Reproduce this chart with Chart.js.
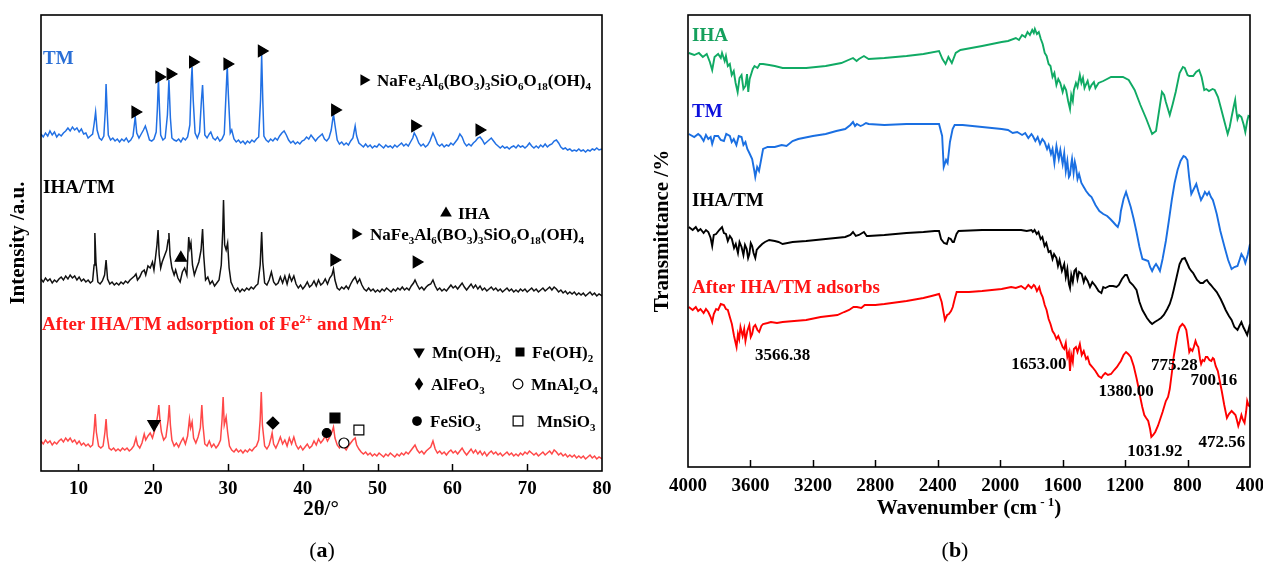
<!DOCTYPE html>
<html>
<head>
<meta charset="utf-8">
<title>XRD and FTIR of IHA/TM</title>
<script src="https://cdn.jsdelivr.net/npm/chart.js@4.4.1/dist/chart.umd.min.js"></script>
<style>
  html, body { margin: 0; padding: 0; background: #fff; }
  #wrap { position: relative; width: 1263px; height: 566px; overflow: hidden; background: #fff; }
  #xrd { position: absolute; left: 0; top: 0; }
  #ftir { position: absolute; left: 630px; top: 0; }
</style>
</head>
<body>
<div id="wrap">
  <canvas id="xrd" width="630" height="566"></canvas>
  <canvas id="ftir" width="633" height="566"></canvas>
</div>
<script>
// ---------------- (a) XRD patterns: [2θ (°), intensity (a.u., stacked)] ----------------
const xrdTicks = [10, 20, 30, 40, 50, 60, 70, 80];

const xrdTM = [
  [5.0,337],[5.3,334],[5.6,338],[5.9,335],[6.2,340],[6.5,336],[6.8,339],[7.1,334],[7.4,337],[7.7,335],
  [8.0,338],[8.3,340],[8.6,343],[8.9,340],[9.2,344],[9.5,341],[9.8,343],[10.1,339],[10.4,342],[10.7,337],
  [11.0,338],[11.3,333],[11.6,335],[11.9,337],[12.1,347],[12.3,359],[12.5,341],[12.8,333],[13.1,331],[13.4,335],
  [13.6,361],[13.7,387],[13.85,359],[14.0,336],[14.3,331],[14.6,333],[14.9,330],[15.2,332],[15.5,329],[15.8,332],
  [16.1,330],[16.4,333],[16.7,329],[17.0,331],[17.3,335],[17.6,354],[17.8,338],[18.1,333],[18.4,337],[18.7,341],
  [18.95,345],[19.2,339],[19.5,331],[19.8,330],[20.1,332],[20.4,339],[20.55,361],[20.7,392],[20.85,361],[21.0,336],
  [21.3,331],[21.6,333],[21.9,356],[22.1,391],[22.3,353],[22.5,333],[22.8,331],[23.1,330],[23.4,332],[23.7,329],
  [24.0,333],[24.3,331],[24.6,334],[24.9,346],[25.1,391],[25.2,404],[25.35,371],[25.6,338],[25.9,333],[26.2,339],
  [26.45,371],[26.6,386],[26.75,361],[26.9,336],[27.2,333],[27.5,337],[27.7,339],[28.0,333],[28.3,331],[28.6,334],
  [28.9,330],[29.2,332],[29.5,337],[29.7,371],[29.9,405],[30.05,376],[30.3,338],[30.5,341],[30.8,332],[31.1,329],
  [31.4,331],[31.7,328],[32.0,330],[32.3,327],[32.6,330],[32.9,328],[33.2,331],[33.5,329],[33.8,332],[34.1,334],
  [34.35,371],[34.5,416],[34.65,371],[34.8,335],[35.1,331],[35.4,329],[35.7,332],[36.0,330],[36.3,333],[36.6,331],
  [36.9,335],[37.2,338],[37.5,340],[37.8,336],[38.1,331],[38.4,328],[38.7,330],[39.0,327],[39.3,329],[39.6,327],
  [39.9,330],[40.2,331],[40.5,334],[40.8,332],[41.1,336],[41.4,333],[41.7,330],[42.0,333],[42.3,335],[42.6,337],
  [42.9,332],[43.2,330],[43.5,333],[43.8,341],[44.1,357],[44.3,346],[44.6,331],[44.9,327],[45.2,329],[45.5,326],
  [45.8,328],[46.1,326],[46.4,330],[46.7,333],[47.0,345],[47.2,335],[47.5,328],[47.8,326],[48.1,324],[48.4,327],
  [48.7,324],[49.0,326],[49.3,323],[49.6,325],[49.9,324],[50.2,327],[50.5,325],[50.8,323],[51.1,326],[51.4,324],
  [51.7,325],[52.0,323],[52.3,326],[52.6,324],[52.9,326],[53.2,328],[53.5,325],[53.8,327],[54.1,325],[54.4,329],
  [54.7,333],[54.9,338],[55.2,334],[55.5,328],[55.8,325],[56.1,327],[56.4,324],[56.7,326],[57.0,330],[57.4,338],
  [57.7,333],[58.0,327],[58.3,325],[58.6,327],[58.9,324],[59.2,326],[59.5,325],[59.8,328],[60.1,326],[60.4,329],
  [60.7,332],[61.0,337],[61.3,334],[61.6,328],[61.9,325],[62.2,327],[62.5,325],[62.8,328],[63.1,330],[63.4,333],
  [63.7,334],[64.0,331],[64.3,327],[64.6,329],[64.9,331],[65.2,333],[65.5,330],[65.8,327],[66.1,325],[66.4,323],
  [66.7,325],[67.0,323],[67.3,324],[67.6,322],[67.9,324],[68.2,325],[68.5,323],[68.8,326],[69.1,324],[69.4,325],
  [69.7,323],[70.0,325],[70.3,328],[70.6,325],[70.9,323],[71.2,325],[71.5,323],[71.8,326],[72.1,324],[72.4,327],
  [72.7,324],[73.0,326],[73.3,327],[73.6,330],[73.9,331],[74.2,328],[74.5,324],[74.8,322],[75.1,323],[75.4,321],
  [75.7,322],[76.0,320],[76.3,321],[76.6,320],[76.9,322],[77.2,320],[77.5,321],[77.8,319],[78.1,321],[78.4,320],
  [78.7,322],[79.0,321],[79.3,323],[79.6,321],[80.0,322]
];

const xrdIHATM = [
  [5.0,192],[5.3,189],[5.6,193],[5.9,190],[6.2,192],[6.5,188],[6.8,191],[7.1,189],[7.4,192],[7.7,194],
  [8.0,191],[8.3,195],[8.6,192],[8.9,196],[9.2,193],[9.5,195],[9.8,191],[10.1,194],[10.4,190],[10.7,192],
  [11.0,189],[11.3,191],[11.6,188],[11.9,190],[12.1,206],[12.2,238],[12.35,209],[12.6,189],[12.9,187],[13.2,190],
  [13.5,196],[13.7,211],[13.9,192],[14.2,187],[14.5,189],[14.8,186],[15.1,188],[15.4,186],[15.7,189],[16.0,187],
  [16.3,190],[16.6,188],[16.9,191],[17.2,193],[17.5,195],[17.7,197],[17.9,191],[18.2,194],[18.5,199],[18.8,201],
  [19.0,196],[19.3,205],[19.6,203],[19.9,209],[20.1,201],[20.3,213],[20.5,226],[20.65,241],[20.8,216],[21.0,203],
  [21.2,209],[21.5,215],[21.8,221],[22.0,231],[22.1,238],[22.25,216],[22.5,203],[22.8,196],[23.0,201],[23.3,193],
  [23.6,189],[23.9,199],[24.2,203],[24.5,196],[24.75,234],[24.9,223],[25.05,228],[25.25,206],[25.5,196],[25.8,203],
  [26.1,209],[26.4,221],[26.6,242],[26.75,216],[27.0,191],[27.3,194],[27.6,187],[27.9,190],[28.2,185],[28.5,188],
  [28.8,191],[29.1,206],[29.3,241],[29.4,271],[29.55,226],[29.75,221],[29.95,228],[30.15,203],[30.4,189],[30.7,184],
  [31.0,180],[31.3,183],[31.6,179],[31.9,182],[32.2,180],[32.5,183],[32.8,181],[33.1,184],[33.4,182],[33.7,185],
  [34.0,187],[34.3,206],[34.5,239],[34.65,209],[34.9,188],[35.2,186],[35.5,191],[35.8,199],[36.1,189],[36.4,186],
  [36.7,188],[37.0,194],[37.3,188],[37.6,195],[37.9,187],[38.2,196],[38.5,190],[38.8,195],[39.1,187],[39.4,183],
  [39.7,186],[40.0,182],[40.3,185],[40.6,189],[40.9,184],[41.2,186],[41.5,190],[41.8,185],[42.1,191],[42.4,186],
  [42.7,188],[43.0,192],[43.3,187],[43.6,193],[43.9,196],[44.1,202],[44.3,191],[44.6,183],[44.9,181],[45.2,184],
  [45.5,182],[45.8,185],[46.1,182],[46.4,187],[46.7,191],[47.0,194],[47.3,188],[47.6,192],[47.9,186],[48.2,182],
  [48.5,180],[48.8,183],[49.1,180],[49.4,182],[49.7,179],[50.0,181],[50.3,179],[50.6,182],[50.9,180],[51.2,183],
  [51.5,181],[51.8,179],[52.1,182],[52.4,180],[52.7,183],[53.0,181],[53.3,184],[53.6,181],[53.9,183],[54.2,181],
  [54.5,185],[54.8,188],[55.0,191],[55.3,186],[55.6,182],[55.9,184],[56.2,181],[56.5,184],[56.8,186],[57.1,187],
  [57.4,191],[57.7,185],[58.0,181],[58.3,183],[58.6,180],[58.9,182],[59.2,180],[59.5,183],[59.8,186],[60.1,183],
  [60.4,185],[60.7,182],[61.0,185],[61.3,188],[61.6,184],[61.9,181],[62.2,184],[62.5,187],[62.8,183],[63.1,186],
  [63.4,182],[63.7,185],[64.0,181],[64.3,183],[64.6,180],[64.9,182],[65.2,184],[65.5,181],[65.8,183],[66.1,180],
  [66.4,182],[66.7,179],[67.0,181],[67.3,183],[67.6,180],[67.9,182],[68.2,179],[68.5,181],[68.8,179],[69.1,182],
  [69.4,180],[69.7,182],[70.0,179],[70.3,181],[70.6,183],[70.9,180],[71.2,182],[71.5,179],[71.8,181],[72.1,183],
  [72.4,180],[72.7,182],[73.0,184],[73.3,181],[73.6,184],[73.9,182],[74.2,179],[74.5,181],[74.8,178],[75.1,180],
  [75.4,177],[75.7,179],[76.0,177],[76.3,179],[76.6,176],[76.9,178],[77.2,176],[77.5,178],[77.8,175],[78.1,177],
  [78.4,179],[78.7,176],[79.0,178],[79.3,175],[79.6,177],[80.0,175]
];

const xrdAdsorbed = [
  [5.0,30],[5.3,27],[5.6,31],[5.9,28],[6.2,30],[6.5,26],[6.8,29],[7.1,27],[7.4,30],[7.7,32],
  [8.0,29],[8.3,33],[8.6,30],[8.9,33],[9.2,29],[9.5,31],[9.8,27],[10.1,30],[10.4,26],[10.7,28],
  [11.0,25],[11.3,27],[11.6,24],[11.9,26],[12.1,41],[12.25,57],[12.4,39],[12.7,25],[13.0,23],[13.3,25],
  [13.55,39],[13.7,52],[13.85,35],[14.1,23],[14.4,21],[14.7,23],[15.0,20],[15.3,22],[15.6,20],[15.9,23],
  [16.2,21],[16.5,23],[16.8,20],[17.1,22],[17.4,25],[17.7,33],[17.9,26],[18.2,23],[18.5,28],[18.8,37],
  [19.0,31],[19.3,35],[19.6,38],[19.9,33],[20.2,41],[20.4,47],[20.6,56],[20.75,66],[20.9,51],[21.1,39],
  [21.4,31],[21.7,34],[22.0,51],[22.15,66],[22.3,46],[22.5,31],[22.8,25],[23.1,28],[23.4,24],[23.7,29],
  [24.0,33],[24.3,27],[24.6,35],[24.85,52],[25.0,43],[25.2,49],[25.4,33],[25.7,28],[26.0,34],[26.3,43],
  [26.5,66],[26.65,46],[26.9,27],[27.2,25],[27.5,30],[27.8,24],[28.1,27],[28.4,23],[28.7,26],[29.0,31],
  [29.2,51],[29.35,74],[29.5,46],[29.75,54],[29.95,39],[30.2,25],[30.5,21],[30.8,19],[31.1,22],[31.4,19],
  [31.7,21],[32.0,18],[32.3,21],[32.6,19],[32.9,22],[33.2,20],[33.5,23],[33.8,25],[34.1,31],[34.3,51],
  [34.45,79],[34.6,46],[34.9,25],[35.2,22],[35.5,26],[35.75,33],[35.9,38],[36.1,27],[36.4,23],[36.7,28],
  [37.0,34],[37.3,27],[37.6,31],[37.9,25],[38.2,33],[38.5,27],[38.8,34],[39.1,26],[39.4,22],[39.7,25],
  [40.0,21],[40.3,24],[40.6,27],[40.9,23],[41.2,25],[41.5,30],[41.8,26],[42.1,32],[42.4,28],[42.7,31],
  [43.0,35],[43.3,30],[43.6,34],[43.9,39],[44.1,44],[44.3,33],[44.6,26],[44.9,23],[45.2,27],[45.5,24],
  [45.8,21],[46.1,25],[46.4,28],[46.7,31],[47.0,33],[47.2,26],[47.5,22],[47.8,19],[48.1,17],[48.4,19],
  [48.7,16],[49.0,18],[49.3,15],[49.6,17],[49.9,15],[50.2,18],[50.5,16],[50.8,14],[51.1,17],[51.4,15],
  [51.7,18],[52.0,16],[52.3,14],[52.6,17],[52.9,15],[53.2,18],[53.5,16],[53.8,19],[54.1,17],[54.4,20],
  [54.7,23],[55.0,26],[55.3,21],[55.6,18],[55.9,20],[56.2,17],[56.5,20],[56.8,22],[57.1,24],[57.4,30],
  [57.7,22],[58.0,18],[58.3,20],[58.6,17],[58.9,19],[59.2,16],[59.5,19],[59.8,21],[60.1,18],[60.4,20],
  [60.7,17],[61.0,20],[61.3,23],[61.6,19],[61.9,16],[62.2,19],[62.5,22],[62.8,18],[63.1,21],[63.4,17],
  [63.7,20],[64.0,16],[64.3,19],[64.6,15],[64.9,18],[65.2,20],[65.5,17],[65.8,19],[66.1,16],[66.4,18],
  [66.7,15],[67.0,17],[67.3,19],[67.6,16],[67.9,18],[68.2,15],[68.5,17],[68.8,15],[69.1,18],[69.4,16],
  [69.7,19],[70.0,17],[70.3,20],[70.6,18],[70.9,16],[71.2,18],[71.5,15],[71.8,17],[72.1,19],[72.4,16],
  [72.7,18],[73.0,20],[73.3,17],[73.6,21],[73.9,19],[74.2,16],[74.5,18],[74.8,15],[75.1,17],[75.4,14],
  [75.7,16],[76.0,14],[76.3,16],[76.6,13],[76.9,15],[77.2,13],[77.5,15],[77.8,12],[78.1,14],[78.4,16],
  [78.7,13],[79.0,15],[79.3,12],[79.6,14],[80.0,12]
];

// Phase identification marks [2θ, intensity]
const tourmalineOnTM    = [[17.6,359],[20.8,394],[22.3,397],[25.3,409],[29.9,407],[34.5,420],[44.3,361],[55.0,345],[63.6,341]];
const ihaOnComposite    = [[23.7,213]];
const tourmalineOnComp  = [[44.2,211],[55.2,209]];
const mnOH2Peaks        = [[20.1,47]];
const feOH2Peaks        = [[44.3,53]];
const alFeO3Peaks       = [[36.0,48]];
const mnAl2O4Peaks      = [[45.5,28]];
const feSiO3Peaks       = [[43.2,38]];
const mnSiO3Peaks       = [[47.5,41]];

// ---------------- (b) FTIR spectra: [wavenumber (cm-1), transmittance (a.u., stacked)] ----------------
const ftirTicks = [4000, 3600, 3200, 2800, 2400, 2000, 1600, 1200, 800, 400];

const ftirIHA = [
  [3995,414],[3960,412],[3930,414],[3905,410],[3880,413],[3860,405],[3845,397],[3830,410],[3807,413],[3790,409],
  [3782,414],[3765,406],[3757,411],[3745,401],[3732,403],[3720,392],[3707,396],[3695,384],[3682,375],[3670,389],
  [3657,392],[3645,378],[3632,381],[3622,393],[3614,375],[3605,388],[3599,391],[3585,398],[3574,401],[3555,399],
  [3540,403],[3519,403],[3480,402],[3444,401],[3394,399],[3300,399],[3243,399],[3118,401],[3018,404],[2943,409],
  [2920,406],[2905,408],[2873,411],[2843,408],[2742,409],[2600,411],[2492,413],[2392,416],[2370,408],[2350,403],
  [2332,410],[2310,404],[2285,414],[2255,417],[2116,421],[1991,425],[1950,426],[1900,429],[1880,427],[1860,432],
  [1840,430],[1825,435],[1810,432],[1795,437],[1785,434],[1778,438],[1765,433],[1753,435],[1740,428],[1728,423],
  [1715,414],[1703,411],[1690,403],[1678,401],[1665,390],[1653,394],[1640,382],[1628,388],[1615,384],[1600,375],
  [1590,381],[1578,377],[1565,366],[1553,358],[1545,372],[1535,366],[1528,377],[1515,384],[1505,380],[1490,392],
  [1480,384],[1470,389],[1460,379],[1452,382],[1440,386],[1428,378],[1415,382],[1400,385],[1390,379],[1370,384],
  [1340,386],[1290,390],[1214,390],[1177,387],[1139,377],[1102,362],[1064,348],[1027,333],[1002,336],[964,375],
  [950,372],[939,365],[914,352],[895,363],[876,375],[851,394],[830,400],[818,399],[800,392],[789,391],
  [770,391],[764,391],[745,395],[726,397],[710,390],[693,377],[680,378],[663,376],[640,378],[626,377],
  [605,370],[588,360],[563,345],[543,333],[530,340],[518,350],[505,360],[495,367],[487,355],[480,348],
  [470,352],[455,350],[440,342],[430,335],[418,346],[410,351],[400,350]
];

const ftirTM = [
  [3995,333],[3960,330],[3935,333],[3920,331],[3900,326],[3885,332],[3870,328],[3855,330],[3845,323],[3830,331],
  [3807,331],[3790,327],[3770,326],[3755,333],[3732,331],[3720,325],[3707,328],[3690,322],[3675,331],[3657,330],
  [3645,322],[3632,325],[3620,318],[3607,314],[3589,308],[3575,296],[3569,290],[3557,300],[3545,296],[3532,307],
  [3519,318],[3490,320],[3444,320],[3400,322],[3369,321],[3330,326],[3294,328],[3200,331],[3118,333],[3050,336],
  [2993,338],[2960,342],[2943,345],[2930,341],[2918,343],[2895,341],[2880,342],[2860,344],[2843,343],[2742,342],
  [2600,343],[2492,343],[2392,343],[2372,331],[2362,300],[2347,307],[2337,304],[2322,325],[2305,338],[2292,342],
  [2241,342],[2116,340],[1991,338],[1950,337],[1920,334],[1891,335],[1860,332],[1840,334],[1820,329],[1800,333],
  [1791,331],[1775,326],[1760,330],[1745,323],[1730,328],[1716,325],[1700,318],[1690,322],[1675,313],[1665,318],
  [1653,304],[1645,315],[1640,321],[1625,308],[1615,317],[1600,303],[1590,314],[1580,296],[1570,306],[1560,290],
  [1553,292],[1545,303],[1540,308],[1530,294],[1522,305],[1515,300],[1505,288],[1495,293],[1480,284],[1465,280],
  [1450,276],[1430,272],[1415,270],[1390,262],[1365,256],[1340,253],[1315,251],[1295,248],[1277,245],[1260,242],
  [1247,240],[1235,246],[1227,256],[1210,268],[1194,275],[1180,268],[1164,260],[1145,248],[1127,235],[1108,220],
  [1089,208],[1070,207],[1052,206],[1040,200],[1027,196],[1015,200],[1002,203],[990,200],[977,196],[960,208],
  [939,226],[920,246],[901,267],[883,284],[864,297],[845,306],[826,311],[814,310],[801,307],[790,290],
  [776,273],[760,278],[744,283],[730,275],[714,267],[700,271],[689,275],[675,272],[663,275],[650,270],
  [638,267],[625,260],[613,253],[590,236],[563,220],[540,207],[518,198],[500,200],[480,201],[465,208],
  [455,213],[440,209],[430,204],[415,212],[400,223]
];

const ftirIHATM = [
  [3995,240],[3970,237],[3950,240],[3935,236],[3920,238],[3900,234],[3885,237],[3870,235],[3855,229],[3845,221],
  [3835,232],[3820,233],[3800,237],[3782,240],[3770,234],[3757,233],[3745,226],[3732,231],[3719,228],[3705,219],
  [3694,223],[3680,214],[3670,225],[3657,220],[3645,212],[3635,222],[3624,218],[3615,209],[3607,213],[3598,224],
  [3589,221],[3580,214],[3569,209],[3560,217],[3544,220],[3525,223],[3507,225],[3480,227],[3444,226],[3420,225],
  [3394,223],[3330,225],[3243,226],[3118,228],[2993,230],[2960,232],[2943,235],[2925,231],[2905,232],[2873,235],
  [2855,231],[2843,231],[2742,232],[2600,234],[2492,235],[2420,236],[2392,236],[2379,228],[2360,224],[2342,223],
  [2330,229],[2317,228],[2305,225],[2297,225],[2280,233],[2267,236],[2116,237],[1991,237],[1866,237],[1830,236],
  [1800,237],[1791,235],[1780,237],[1766,233],[1755,235],[1741,228],[1730,230],[1716,221],[1705,224],[1690,215],
  [1678,216],[1665,208],[1655,213],[1640,209],[1630,201],[1620,207],[1605,196],[1590,203],[1580,190],[1570,198],
  [1560,183],[1553,179],[1545,192],[1535,185],[1525,196],[1515,198],[1505,188],[1495,195],[1478,193],[1465,185],
  [1455,190],[1440,186],[1425,180],[1410,185],[1390,181],[1370,176],[1352,174],[1340,180],[1327,179],[1300,181],
  [1277,181],[1255,180],[1240,182],[1220,188],[1200,192],[1189,192],[1170,185],[1150,182],[1127,177],[1108,165],
  [1089,157],[1060,149],[1040,145],[1027,143],[1010,145],[989,147],[970,149],[952,152],[930,158],[914,163],
  [900,170],[889,177],[870,190],[851,203],[835,208],[818,209],[803,204],[789,199],[776,196],[764,194],
  [750,190],[739,187],[718,184],[701,184],[688,186],[676,187],[663,184],[651,182],[630,178],[613,175],
  [588,168],[570,162],[556,157],[535,151],[518,147],[500,140],[480,137],[468,141],[455,145],[443,140],
  [430,136],[418,132],[408,138],[400,143]
];

const ftirAdsorbed = [
  [3995,160],[3970,157],[3950,160],[3935,156],[3920,158],[3900,154],[3885,158],[3870,155],[3855,150],[3845,145],
  [3835,153],[3820,158],[3807,157],[3790,163],[3770,162],[3757,158],[3745,157],[3732,150],[3719,143],[3705,131],
  [3695,124],[3689,120],[3680,133],[3672,128],[3664,140],[3650,131],[3640,138],[3632,126],[3620,136],[3607,142],
  [3598,130],[3589,133],[3580,140],[3569,142],[3555,137],[3544,135],[3530,141],[3519,143],[3490,144],[3469,145],
  [3430,144],[3394,145],[3320,146],[3243,147],[3150,150],[3043,152],[3000,155],[2968,157],[2940,160],[2918,160],
  [2890,159],[2868,162],[2800,162],[2742,163],[2600,166],[2492,169],[2440,171],[2392,173],[2375,165],[2367,158],
  [2354,147],[2340,152],[2329,153],[2315,156],[2304,160],[2290,169],[2279,175],[2200,175],[2116,176],[1991,178],
  [1930,180],[1900,179],[1866,181],[1840,178],[1820,182],[1800,179],[1785,182],[1778,181],[1765,176],[1750,180],
  [1740,174],[1728,170],[1715,162],[1703,157],[1690,148],[1678,143],[1665,136],[1653,133],[1640,128],[1628,131],
  [1615,126],[1600,120],[1590,118],[1580,124],[1570,110],[1560,115],[1553,96],[1545,112],[1535,105],[1528,118],
  [1515,120],[1505,115],[1490,123],[1478,112],[1465,116],[1450,108],[1440,110],[1427,103],[1410,100],[1390,96],
  [1370,91],[1352,89],[1340,92],[1327,94],[1310,92],[1290,93],[1270,97],[1252,100],[1240,103],[1227,106],
  [1210,112],[1194,115],[1180,113],[1164,110],[1145,101],[1127,89],[1115,80],[1102,69],[1090,60],[1077,52],
  [1065,49],[1052,46],[1040,38],[1032,30],[1020,32],[1007,35],[990,41],[977,47],[960,55],[939,66],
  [925,70],[914,78],[900,95],[889,110],[876,122],[864,133],[850,140],[833,143],[820,141],[808,137],
  [798,126],[789,115],[780,118],[769,116],[760,120],[749,126],[740,122],[731,120],[720,108],[713,103],
  [703,107],[693,106],[683,110],[673,110],[660,107],[648,106],[638,109],[631,108],[620,101],[606,96],
  [595,87],[581,76],[565,62],[548,49],[535,53],[518,56],[505,54],[493,52],[484,47],[475,41],
  [465,46],[455,52],[445,47],[435,44],[425,55],[418,66],[410,62],[400,60]
];

// Band assignments written on the adsorbed spectrum: label text and its anchor [wavenumber, transmittance]
const bandLabels = ['3566.38', '1653.00', '1380.00', '775.28', '700.16', '1031.92', '472.56'];
const bandAnchors = [[3394,113], [1752,104], [1194,77], [884,103], [632,88], [1009,17], [580,26]];

// ---------------- drawing helpers ----------------
const SERIF = '"Liberation Serif", "Times New Roman", "DejaVu Serif", serif';
const C = {
  xrdBlue: '#2170e4', xrdBlueText: '#2a6fd6', xrdRed: '#ff4848', xrdRedText: '#ff1a1a',
  irGreen: '#10aa64', irGreenText: '#14a05c', irBlue: '#1a6fe2', irBlueText: '#0c10dc',
  irRed: '#ff0000', irRedText: '#ff1414', black: '#000000'
};

const toXY = arr => arr.map(p => ({ x: p[0], y: p[1] }));

function parseRich(str) {
  const segs = []; let buf = ''; let i = 0;
  const flush = () => { if (buf) { segs.push({ t: buf, m: 0 }); buf = ''; } };
  while (i < str.length) {
    const c = str[i];
    if (c === '_' || c === '^') {
      flush();
      let t;
      if (str[i + 1] === '{') { const j = str.indexOf('}', i + 2); t = str.slice(i + 2, j); i = j + 1; }
      else { t = str[i + 1]; i += 2; }
      segs.push({ t, m: c === '_' ? -1 : 1 });
    } else { buf += c; i++; }
  }
  flush();
  return segs;
}

// Draws text with sub/superscripts; y is the visual middle of the capitals.
function drawRich(ctx, str, x, y, o) {
  const segs = parseRich(str);
  const size = o.size, small = Math.round(size * 0.64);
  const weight = o.weight || 'bold';
  let total = 0;
  segs.forEach(s => {
    ctx.font = `${weight} ${s.m ? small : size}px ${SERIF}`;
    s.w = ctx.measureText(s.t).width; total += s.w;
  });
  let cx = o.align === 'center' ? x - total / 2 : (o.align === 'right' ? x - total : x);
  const base = y + size * 0.33;
  ctx.fillStyle = o.color || '#000';
  ctx.textAlign = 'left';
  ctx.textBaseline = 'alphabetic';
  segs.forEach(s => {
    ctx.font = `${weight} ${s.m ? small : size}px ${SERIF}`;
    const dy = s.m === -1 ? size * 0.24 : (s.m === 1 ? -size * 0.40 : 0);
    ctx.fillText(s.t, cx, base + dy);
    cx += s.w;
  });
  return total;
}

function drawRotated(ctx, str, cx, cy, o) {
  ctx.save();
  ctx.translate(cx, cy);
  ctx.rotate(-Math.PI / 2);
  drawRich(ctx, str, 0, 0, Object.assign({ align: 'center' }, o));
  ctx.restore();
}

// Key symbols for the phase legends
function drawSymbol(ctx, kind, x, y, r) {
  ctx.save();
  ctx.fillStyle = '#000'; ctx.strokeStyle = '#000'; ctx.lineWidth = 1.2;
  ctx.beginPath();
  if (kind === 'right') { ctx.moveTo(x + r, y); ctx.lineTo(x - r * 0.55, y - r * 0.9); ctx.lineTo(x - r * 0.55, y + r * 0.9); ctx.closePath(); ctx.fill(); }
  else if (kind === 'up') { ctx.moveTo(x, y - r); ctx.lineTo(x + r * 0.9, y + r * 0.55); ctx.lineTo(x - r * 0.9, y + r * 0.55); ctx.closePath(); ctx.fill(); }
  else if (kind === 'down') { ctx.moveTo(x, y + r); ctx.lineTo(x + r * 0.9, y - r * 0.55); ctx.lineTo(x - r * 0.9, y - r * 0.55); ctx.closePath(); ctx.fill(); }
  else if (kind === 'square') { ctx.rect(x - r * 0.75, y - r * 0.75, r * 1.5, r * 1.5); ctx.fill(); }
  else if (kind === 'openSquare') { ctx.fillStyle = '#fff'; ctx.rect(x - r * 0.75, y - r * 0.75, r * 1.5, r * 1.5); ctx.fill(); ctx.stroke(); }
  else if (kind === 'diamond') { ctx.moveTo(x, y - r); ctx.lineTo(x + r * 0.65, y); ctx.lineTo(x, y + r); ctx.lineTo(x - r * 0.65, y); ctx.closePath(); ctx.fill(); }
  else if (kind === 'dot') { ctx.arc(x, y, r * 0.75, 0, Math.PI * 2); ctx.fill(); }
  else if (kind === 'ring') { ctx.fillStyle = '#fff'; ctx.arc(x, y, r * 0.75, 0, Math.PI * 2); ctx.fill(); ctx.stroke(); }
  ctx.restore();
}

// Frame around the plot area plus inward ticks on the bottom axis
const framePlugin = {
  id: 'frame',
  afterDatasetsDraw(chart) {
    const { ctx, chartArea: a } = chart;
    const sx = chart.scales.x;
    ctx.save();
    ctx.strokeStyle = '#000';
    ctx.lineWidth = 1.6;
    ctx.strokeRect(a.left, a.top, a.right - a.left, a.bottom - a.top);
    ctx.lineWidth = 1.5;
    sx.ticks.forEach(t => {
      if (t.value === sx.min || t.value === sx.max) return;
      const px = Math.round(sx.getPixelForValue(t.value)) + 0.5;
      ctx.beginPath(); ctx.moveTo(px, a.bottom); ctx.lineTo(px, a.bottom - 7); ctx.stroke();
    });
    ctx.restore();
  }
};

function drawPanelLetter(ctx, letter, cx, cy) {
  ctx.save();
  ctx.textBaseline = 'middle';
  ctx.fillStyle = '#000';
  ctx.font = `22px ${SERIF}`;
  const wp = ctx.measureText('(').width;
  ctx.font = `bold 22px ${SERIF}`;
  const wl = ctx.measureText(letter).width;
  let x = cx - (wp * 2 + wl) / 2;
  ctx.textAlign = 'left';
  ctx.font = `22px ${SERIF}`; ctx.fillText('(', x, cy); x += wp;
  ctx.font = `bold 22px ${SERIF}`; ctx.fillText(letter, x, cy); x += wl;
  ctx.font = `22px ${SERIF}`; ctx.fillText(')', x, cy);
  ctx.restore();
}

const xrdText = {
  id: 'xrdText',
  afterDraw(chart) {
    const ctx = chart.ctx;
    ctx.save();
    // series names
    drawRich(ctx, 'TM', 43, 58, { size: 19, color: C.xrdBlueText });
    drawRich(ctx, 'IHA/TM', 43, 187, { size: 19, color: '#000' });
    drawRich(ctx, 'After IHA/TM adsorption of Fe^{2+} and Mn^{2+}', 42, 324, { size: 19, color: C.xrdRedText });
    // phase keys
    drawSymbol(ctx, 'right', 364, 80, 6.5);
    drawRich(ctx, 'NaFe_3Al_6(BO_3)_3SiO_6O_{18}(OH)_4', 377, 80, { size: 17 });
    drawSymbol(ctx, 'up', 446, 213, 6.5);
    drawRich(ctx, 'IHA', 458, 213, { size: 17 });
    drawSymbol(ctx, 'right', 356, 234, 6.5);
    drawRich(ctx, 'NaFe_3Al_6(BO_3)_3SiO_6O_{18}(OH)_4', 370, 234, { size: 17 });
    drawSymbol(ctx, 'down', 419, 352, 6.5);
    drawRich(ctx, 'Mn(OH)_2', 432, 352, { size: 17 });
    drawSymbol(ctx, 'square', 520, 352, 6);
    drawRich(ctx, 'Fe(OH)_2', 532, 352, { size: 17 });
    drawSymbol(ctx, 'diamond', 419, 384, 6.5);
    drawRich(ctx, 'AlFeO_3', 431, 384, { size: 17 });
    drawSymbol(ctx, 'ring', 518, 384, 6.5);
    drawRich(ctx, 'MnAl_2O_4', 531, 384, { size: 17 });
    drawSymbol(ctx, 'dot', 417, 421, 6.5);
    drawRich(ctx, 'FeSiO_3', 430, 421, { size: 17 });
    drawSymbol(ctx, 'openSquare', 518, 421, 6.5);
    drawRich(ctx, 'MnSiO_3', 537, 421, { size: 17 });
    // axis titles and panel letter
    drawRotated(ctx, 'Intensity /a.u.', 17, 243, { size: 21 });
    drawRich(ctx, '2θ/°', 321, 508, { size: 21, align: 'center' });
    drawPanelLetter(ctx, 'a', 322, 551);
    ctx.restore();
  }
};

const ftirText = {
  id: 'ftirText',
  afterDraw(chart) {
    const ctx = chart.ctx;
    const sx = chart.scales.x, sy = chart.scales.y;
    ctx.save();
    drawRich(ctx, 'IHA', 62, 35, { size: 19, color: C.irGreenText });
    drawRich(ctx, 'TM', 62, 111, { size: 19, color: C.irBlueText });
    drawRich(ctx, 'IHA/TM', 62, 200, { size: 19, color: '#000' });
    drawRich(ctx, 'After IHA/TM adsorbs', 62, 287, { size: 19, color: C.irRedText });
    bandLabels.forEach((txt, i) => {
      const [wn, t] = bandAnchors[i];
      drawRich(ctx, txt, sx.getPixelForValue(wn), sy.getPixelForValue(t), { size: 17, align: 'center' });
    });
    drawRotated(ctx, 'Transmittance /%', 31, 231, { size: 21 });
    drawRich(ctx, 'Wavenumber (cm^{ - 1})', 339, 507, { size: 21, align: 'center' });
    drawPanelLetter(ctx, 'b', 325, 551);
    ctx.restore();
  }
};

function lineSet(data, color, width) {
  return { data: toXY(data), showLine: true, borderColor: color, borderWidth: width,
           pointRadius: 0, tension: 0, fill: false, order: 2 };
}
function markSet(data, style, rotation, radius, fill, stroke) {
  return { data: toXY(data), showLine: false, pointStyle: style, rotation, pointRadius: radius,
           backgroundColor: fill, borderColor: stroke || '#000', borderWidth: 1.2, order: 1 };
}

const tickFont = { family: SERIF, size: 19, weight: 'bold' };
const plainLabel = v => String(v);
const common = {
  responsive: false, animation: false, events: [],
  plugins: { legend: { display: false }, tooltip: { enabled: false } }
};

new Chart(document.getElementById('xrd'), {
  type: 'scatter',
  data: {
    datasets: [
      lineSet(xrdTM, C.xrdBlue, 1.5),
      lineSet(xrdIHATM, '#111', 1.5),
      lineSet(xrdAdsorbed, C.xrdRed, 1.5),
      markSet(tourmalineOnTM, 'triangle', 90, 6.5, '#000'),
      markSet(ihaOnComposite, 'triangle', 0, 6.5, '#000'),
      markSet(tourmalineOnComp, 'triangle', 90, 6.5, '#000'),
      markSet(mnOH2Peaks, 'triangle', 180, 7, '#000'),
      markSet(feOH2Peaks, 'rect', 0, 7, '#000'),
      markSet(alFeO3Peaks, 'rectRot', 0, 6, '#000'),
      markSet(mnAl2O4Peaks, 'circle', 0, 5, '#fff'),
      markSet(feSiO3Peaks, 'circle', 0, 4.5, '#000'),
      markSet(mnSiO3Peaks, 'rect', 0, 7, '#fff')
    ]
  },
  options: Object.assign({}, common, {
    layout: { padding: { left: 41, top: 15, right: 28, bottom: 0 } },
    scales: {
      x: {
        type: 'linear', min: 5, max: 80,
        afterBuildTicks: s => { s.ticks = xrdTicks.map(v => ({ value: v })); },
        afterFit: s => { s.height = 95; s.paddingLeft = 0; s.paddingRight = 0; },
        grid: { display: false, drawTicks: false }, border: { display: false },
        ticks: { font: tickFont, color: '#000', padding: 7, maxRotation: 0, autoSkip: false, callback: plainLabel }
      },
      y: { display: false, min: 0, max: 456 }
    }
  }),
  plugins: [framePlugin, xrdText]
});

new Chart(document.getElementById('ftir'), {
  type: 'scatter',
  data: {
    datasets: [
      lineSet(ftirIHA, C.irGreen, 1.9),
      lineSet(ftirTM, C.irBlue, 1.9),
      lineSet(ftirIHATM, '#000', 1.9),
      lineSet(ftirAdsorbed, C.irRed, 1.9)
    ]
  },
  options: Object.assign({}, common, {
    layout: { padding: { left: 58, top: 15, right: 13, bottom: 0 } },
    scales: {
      x: {
        type: 'linear', min: 400, max: 4000, reverse: true,
        afterBuildTicks: s => { s.ticks = ftirTicks.map(v => ({ value: v })); },
        afterFit: s => { s.height = 99; s.paddingLeft = 0; s.paddingRight = 0; },
        grid: { display: false, drawTicks: false }, border: { display: false },
        ticks: { font: tickFont, color: '#000', padding: 8, maxRotation: 0, autoSkip: false, callback: plainLabel }
      },
      y: { display: false, min: 0, max: 452 }
    }
  }),
  plugins: [framePlugin, ftirText]
});
</script>
</body>
</html>
